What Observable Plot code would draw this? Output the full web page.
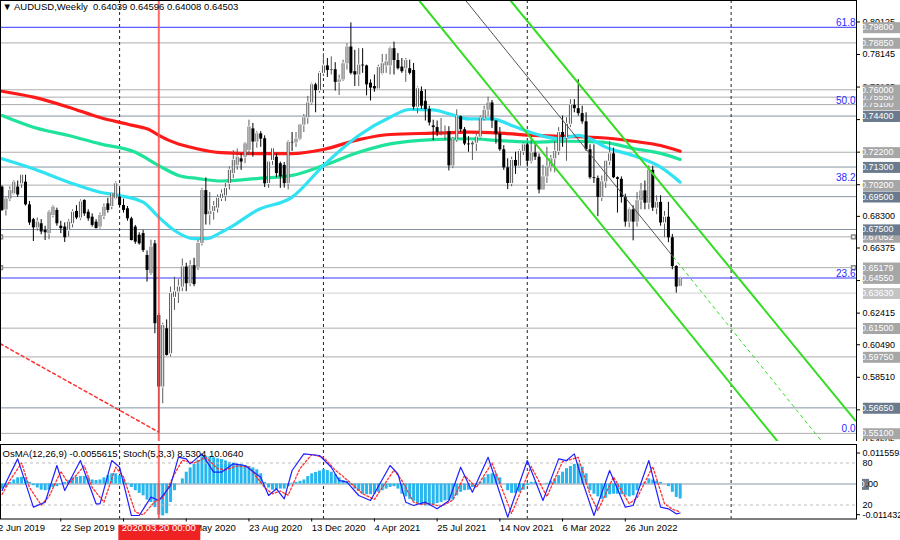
<!DOCTYPE html>
<html><head><meta charset="utf-8">
<script src="https://cdn.jsdelivr.net/npm/d3@7"></script>
<script src="https://cdn.jsdelivr.net/npm/@observablehq/plot@0.6"></script>
<style>
body{margin:0;background:#fff;}
#chart{position:relative;width:900px;height:540px;overflow:hidden;background:#fff;}
#chart svg{position:absolute;left:0;}
</style></head>
<body><div id="chart"></div>
<script>
// ---------------- DATA ----------------
const symbolTitle = "AUDUSD,Weekly";
const lastQuote = ["0.64039","0.64596","0.64008","0.64503"];
const indicatorTitle = "OsMA(12,26,9) -0.0055615  Stoch(5,3,3) 8.5304 10.0640";
const firstBar = "2019-06-09";   // weekly bars, one per week

const open = [
0.7008,0.6870,0.6935,0.6967,0.7008,0.7028,0.7038,0.6900,0.6810,0.6760,
0.6785,0.6745,0.6725,0.6835,0.6866,0.6770,0.6765,0.6745,0.6785,0.6860,
0.6820,0.6927,0.6855,0.6825,0.6795,0.6765,0.6830,0.6906,0.6890,0.6937,
0.6947,0.6896,0.6876,0.6815,0.6765,0.6715,0.6725,0.6592,0.6481,0.6663,
0.6227,0.5792,0.6146,0.5994,0.6337,0.6370,0.6400,0.6522,0.6420,0.6530,
0.6520,0.6665,0.6987,0.6840,0.6860,0.6880,0.6940,0.6955,0.7030,0.7090,
0.7140,0.7180,0.7190,0.7231,0.7362,0.7282,0.7332,0.7302,0.7030,0.7170,
0.7190,0.7150,0.7140,0.7029,0.7280,0.7277,0.7300,0.7385,0.7430,0.7520,
0.7630,0.7595,0.7700,0.7745,0.7717,0.7722,0.7645,0.7660,0.7758,0.7860,
0.7710,0.7690,0.7750,0.7745,0.7640,0.7620,0.7605,0.7698,0.7745,0.7745,
0.7850,0.7778,0.7738,0.7728,0.7728,0.7717,0.7494,0.7590,0.7530,0.7480,
0.7380,0.7370,0.7342,0.7345,0.7345,0.7137,0.7297,0.7436,0.7357,0.7270,
0.7265,0.7275,0.7312,0.7425,0.7475,0.7520,0.7410,0.7330,0.7235,0.7125,
0.7030,0.7170,0.7135,0.7225,0.7265,0.7165,0.7215,0.7190,0.6990,0.7070,
0.7130,0.7180,0.7225,0.7340,0.7310,0.7390,0.7505,0.7485,0.7455,0.7405,
0.7235,0.7065,0.7060,0.6945,0.7040,0.7165,0.7210,0.7065,0.7055,0.6945,
0.6795,0.6870,0.6795,0.6925,0.6985,0.6910,0.7110,0.6880,0.6915,0.6790,
0.6825,0.6700,0.6525,0.64039];
const high = [
0.7015,0.6946,0.7010,0.7048,0.7045,0.7085,0.7080,0.6920,0.6818,0.6820,
0.6810,0.6770,0.6865,0.6895,0.6880,0.6800,0.6790,0.6810,0.6870,0.6895,
0.6930,0.6930,0.6870,0.6845,0.6810,0.6850,0.6905,0.6940,0.6975,0.7040,
0.7000,0.6935,0.6890,0.6825,0.6775,0.6730,0.6745,0.6620,0.6685,0.6683,
0.6240,0.6180,0.6200,0.6400,0.6460,0.6445,0.6570,0.6545,0.6560,0.6575,
0.6685,0.7000,0.7064,0.6975,0.6920,0.6960,0.6990,0.7030,0.7130,0.7230,
0.7240,0.7210,0.7280,0.7415,0.7395,0.7345,0.7345,0.7320,0.7165,0.7243,
0.7210,0.7160,0.7158,0.7290,0.7340,0.7340,0.7390,0.7450,0.7560,0.7640,
0.7640,0.7710,0.7820,0.7790,0.7800,0.7765,0.7690,0.7780,0.7880,0.8007,
0.7840,0.7850,0.7850,0.7750,0.7660,0.7690,0.7750,0.7815,0.7815,0.7860,
0.7890,0.7820,0.7790,0.7790,0.7780,0.7760,0.7617,0.7617,0.7600,0.7500,
0.7415,0.7410,0.7425,0.7380,0.7375,0.7310,0.7478,0.7440,0.7370,0.7315,
0.7285,0.7330,0.7440,0.7500,0.7555,0.7535,0.7410,0.7370,0.7260,0.7180,
0.7190,0.7220,0.7235,0.7277,0.7275,0.7315,0.7277,0.7210,0.7140,0.7250,
0.7200,0.7285,0.7370,0.7440,0.7430,0.7540,0.7540,0.7661,0.7500,0.7460,
0.7265,0.7265,0.7075,0.7075,0.7170,0.7285,0.7245,0.7070,0.7070,0.6965,
0.6880,0.6895,0.6975,0.7030,0.7045,0.7137,0.7135,0.6955,0.6955,0.6860,
0.6915,0.6720,0.6530,0.64596];
const low = [
0.6860,0.6832,0.6920,0.6960,0.6945,0.7000,0.6893,0.6775,0.6677,0.6740,
0.6718,0.6683,0.6688,0.6820,0.6770,0.6725,0.6671,0.6705,0.6760,0.6810,
0.6805,0.6830,0.6800,0.6765,0.6755,0.6752,0.6810,0.6850,0.6870,0.6930,
0.6880,0.6850,0.6800,0.6680,0.6660,0.6655,0.6610,0.6430,0.6470,0.6116,
0.5510,0.5690,0.5980,0.5975,0.6258,0.6300,0.6372,0.6372,0.6402,0.6402,
0.6500,0.6650,0.6777,0.6776,0.6807,0.6850,0.6920,0.6920,0.6990,0.7060,
0.7110,0.7110,0.7150,0.7200,0.7190,0.7245,0.7250,0.7005,0.7000,0.7140,
0.7065,0.7000,0.7002,0.6991,0.7225,0.7250,0.7290,0.7340,0.7390,0.7505,
0.7460,0.7580,0.7680,0.7675,0.7690,0.7592,0.7565,0.7650,0.7720,0.7690,
0.7620,0.7620,0.7700,0.7563,0.7532,0.7585,0.7600,0.7690,0.7700,0.7690,
0.7690,0.7720,0.7700,0.7645,0.7690,0.7477,0.7454,0.7480,0.7410,0.7380,
0.7290,0.7315,0.7320,0.7290,0.7106,0.7120,0.7280,0.7342,0.7260,0.7220,
0.7170,0.7225,0.7300,0.7410,0.7440,0.7365,0.7270,0.7225,0.7110,0.6993,
0.7010,0.7085,0.7125,0.7200,0.7130,0.7150,0.7170,0.6967,0.6990,0.7030,
0.7100,0.7095,0.7200,0.7250,0.7165,0.7370,0.7460,0.7440,0.7390,0.7225,
0.7055,0.7030,0.6828,0.6920,0.7000,0.7140,0.7060,0.6850,0.6910,0.6765,
0.6760,0.6681,0.6765,0.6870,0.6870,0.6870,0.6860,0.6840,0.6770,0.6700,
0.6670,0.6505,0.6363,0.64008];
const close = [
0.6866,0.6935,0.6987,0.7038,0.6960,0.7080,0.6900,0.6790,0.6760,0.6795,
0.6735,0.6730,0.6855,0.6886,0.6785,0.6755,0.6700,0.6795,0.6855,0.6820,
0.6917,0.6845,0.6815,0.6775,0.6755,0.6835,0.6886,0.6866,0.6967,0.7028,
0.6896,0.6866,0.6815,0.6683,0.6673,0.6663,0.6622,0.6501,0.6643,0.6177,
0.5792,0.6166,0.5984,0.6360,0.6370,0.6400,0.6522,0.6420,0.6530,0.6415,
0.6665,0.6987,0.6840,0.6860,0.6890,0.6940,0.6965,0.7000,0.7110,0.7170,
0.7190,0.7160,0.7271,0.7373,0.7282,0.7332,0.7300,0.7028,0.7160,0.7241,
0.7090,0.7070,0.7029,0.7280,0.7277,0.7300,0.7385,0.7430,0.7520,0.7630,
0.7595,0.7700,0.7745,0.7717,0.7722,0.7645,0.7660,0.7758,0.7860,0.7700,
0.7690,0.7750,0.7745,0.7630,0.7610,0.7605,0.7735,0.7758,0.7770,0.7850,
0.7778,0.7728,0.7710,0.7778,0.7700,0.7494,0.7606,0.7500,0.7480,0.7398,
0.7370,0.7340,0.7345,0.7345,0.7137,0.7297,0.7436,0.7357,0.7270,0.7265,
0.7275,0.7312,0.7425,0.7475,0.7520,0.7410,0.7330,0.7235,0.7125,0.7030,
0.7170,0.7135,0.7225,0.7265,0.7165,0.7215,0.7190,0.6990,0.7070,0.7130,
0.7180,0.7225,0.7340,0.7310,0.7390,0.7505,0.7485,0.7455,0.7405,0.7235,
0.7065,0.7060,0.6945,0.7040,0.7165,0.7210,0.7065,0.7055,0.6945,0.6795,
0.6870,0.6795,0.6925,0.6985,0.6910,0.7110,0.6880,0.6915,0.6790,0.6825,
0.6700,0.6525,0.6400,0.64503];

// moving averages: [date, price]
const maRed = [["2019-06-09",0.7591],["2019-08-04",0.7555],["2019-10-06",0.7494],["2019-12-01",0.7431],["2020-01-26",0.7385],["2020-03-01",0.7352],["2020-03-15",0.7322],["2020-05-24",0.7240],["2020-07-05",0.7218],["2020-09-06",0.7212],["2020-11-08",0.7212],["2021-01-03",0.7237],["2021-03-07",0.7297],["2021-05-02",0.7328],["2021-07-18",0.7336],["2021-09-19",0.7342],["2021-11-14",0.7336],["2022-01-16",0.7322],["2022-03-13",0.7316],["2022-05-15",0.7308],["2022-07-10",0.7287],["2022-08-28",0.7261],["2022-10-02",0.7226]];
const maGreen = [["2019-06-09",0.7443],["2019-08-04",0.7372],["2019-10-06",0.7322],["2019-12-01",0.7271],["2020-02-02",0.7220],["2020-03-15",0.7139],["2020-04-19",0.7079],["2020-05-24",0.7060],["2020-07-05",0.7045],["2020-09-06",0.7060],["2020-11-08",0.7079],["2021-01-03",0.7139],["2021-03-07",0.7220],["2021-05-02",0.7271],["2021-07-18",0.7297],["2021-09-19",0.7302],["2021-11-14",0.7291],["2022-01-16",0.7281],["2022-03-13",0.7287],["2022-05-15",0.7281],["2022-07-10",0.7243],["2022-08-28",0.7213],["2022-10-02",0.7176]];
const maCyan = [["2019-06-09",0.7180],["2019-08-04",0.7119],["2019-10-06",0.7038],["2019-12-01",0.6977],["2020-01-05",0.6957],["2020-02-16",0.6916],["2020-03-15",0.6825],["2020-04-12",0.6744],["2020-05-17",0.6694],["2020-06-07",0.6694],["2020-07-05",0.6734],["2020-07-26",0.6774],["2020-09-06",0.6866],["2020-11-08",0.6947],["2021-01-03",0.7139],["2021-03-07",0.7322],["2021-05-02",0.7433],["2021-06-06",0.7480],["2021-07-18",0.7478],["2021-08-15",0.7454],["2021-09-19",0.7423],["2021-10-31",0.7423],["2021-12-05",0.7383],["2022-01-16",0.7332],["2022-02-27",0.7302],["2022-04-03",0.7322],["2022-04-24",0.7302],["2022-05-22",0.7251],["2022-07-10",0.7200],["2022-08-28",0.7129],["2022-10-02",0.7038]];

// drawn objects: [date, price]
const channelLower = [["2021-06-23",0.8143],["2023-03-25",0.54605]];
const channelUpper = [["2021-12-03",0.8143],["2023-08-11",0.5588]];
const channelMid = [["2021-09-14",0.8143],["2022-09-20",0.6582]];
const channelMidExt = [["2022-09-20",0.6582],["2023-06-12",0.54605]];
const redTrend = [["2019-06-06",0.6055],["2020-03-14",0.5519]];

// horizontal levels (ascending)
const levelPrices = [0.5510,0.5665,0.5975,0.6150,0.6363,0.6455,0.65179,0.67052,0.6750,0.6950,0.7020,0.7130,0.7220,0.7440,0.7510,0.7555,0.7600,0.7885,0.7980];
const levelKinds  = ["light","dark","light","light","pale","blue","light","light","dark","dark","light","dark","light","dark","light","light","light","light","blue"];
const handleLevels = [0.67052,0.65179];
const fibLabels = ["61.8","50.0","38.2","23.6","0.0"];
const fibPrices = [0.7980,0.7509,0.7038,0.6455,0.5513];
const priceTicks = [0.80125,0.78145,0.76165,0.74185,0.72205,0.70225,0.68300,0.66375,0.64395,0.62415,0.60490,0.58510,0.56530,0.54605];

const yearLines = ["2020-01-05","2021-01-03","2022-01-02","2023-01-01"];
const markDate = "2020-03-20";
const markLabel = "2020.03.20 00:00";
const timeTicks = ["2019-06-02","2019-09-22","2020-01-12","2020-05-03","2020-08-23","2020-12-13","2021-04-04","2021-07-25","2021-11-14","2022-03-06","2022-06-26"];

// OsMA histogram, one value per bar
const osma = [
-0.0019,-0.0013,0.0006,0.0015,0.0023,0.0025,0.0023,0.0006,-0.0006,-0.0015,
-0.0023,-0.0025,-0.0023,-0.0013,-0.0010,-0.0003,0.0006,0.0013,0.0023,0.0025,
0.0028,0.0028,0.0023,0.0015,0.0013,0.0015,0.0023,0.0031,0.0038,0.0038,
0.0031,0.0019,0.0003,-0.0013,-0.0025,-0.0035,-0.0044,-0.0060,-0.0069,-0.0088,
-0.0116,-0.0119,-0.0111,-0.0069,-0.0025,0.0000,0.0019,0.0044,0.0060,0.0073,
0.0088,0.0101,0.0103,0.0101,0.0098,0.0094,0.0091,0.0086,0.0081,0.0078,
0.0075,0.0073,0.0069,0.0065,0.0060,0.0053,0.0038,0.0006,-0.0015,-0.0023,
-0.0023,-0.0019,-0.0019,-0.0010,0.0003,0.0006,0.0010,0.0015,0.0028,0.0038,
0.0043,0.0048,0.0053,0.0050,0.0044,0.0035,0.0023,0.0013,0.0010,-0.0003,
-0.0019,-0.0028,-0.0038,-0.0040,-0.0040,-0.0038,-0.0031,-0.0025,-0.0019,-0.0013,
-0.0010,-0.0019,-0.0038,-0.0048,-0.0057,-0.0065,-0.0073,-0.0078,-0.0082,-0.0082,
-0.0078,-0.0073,-0.0069,-0.0063,-0.0062,-0.0060,-0.0044,-0.0031,-0.0025,-0.0023,
-0.0013,-0.0006,0.0006,0.0023,0.0035,0.0038,0.0038,0.0023,0.0000,-0.0025,
-0.0035,-0.0035,-0.0031,-0.0023,-0.0006,0.0006,0.0006,0.0000,0.0000,0.0003,
0.0010,0.0019,0.0031,0.0044,0.0057,0.0065,0.0073,0.0075,0.0063,0.0038,
-0.0025,-0.0038,-0.0048,-0.0057,-0.0053,-0.0040,-0.0038,-0.0038,-0.0040,-0.0044,
-0.0048,-0.0044,-0.0025,-0.0006,0.0006,0.0019,0.0015,0.0010,0.0006,0.0000,
-0.0010,-0.0031,-0.0050,-0.0056];
const osmaTicks = [0.0115593,-0.011432];

// Stochastic turning points: [bar number, value]
const stochMain = [[0,40.7],[4,85.9],[8,16.9],[11,24],[14,76.4],[16,40.7],[20,83.5],[24,21.7],[25,21.7],[28,83.5],[30,74],[33,5],[35,5],[38,31.2],[40,26.4],[43,47.8],[45,88.3],[47,85.9],[48,78.8],[51,93],[54,66.9],[56,66.9],[59,78.8],[62,76.4],[66,59.7],[68,33.6],[70,43.1],[72,28.8],[74,69.3],[77,93],[81,90.7],[84,74],[86,55],[88,52.6],[91,33.6],[94,26.4],[99,76.4],[101,64.5],[103,24],[105,19.3],[108,24],[111,14.5],[114,26],[117,74],[120,38.3],[124,88.3],[129,2.6],[134,83.5],[138,26.4],[142,85.9],[144,83.5],[146,93],[148,55],[151,5],[155,69.3],[159,16.9],[161,19.3],[165,83.5],[168,16.9],[170,14.5],[172,7.4],[173,8.53]];
const stochSignal = [[0,35],[2,55],[5,80],[7,45],[10,20],[12,32],[15,68],[17,50],[21,76],[23,45],[26,24],[29,74],[31,60],[34,10],[36,6],[39,25],[41,30],[44,64],[46,84],[49,80],[52,88],[55,72],[57,70],[60,76],[63,74],[67,45],[69,36],[71,40],[73,34],[76,72],[79,92],[82,88],[85,70],[88,56],[92,36],[95,28],[100,70],[102,55],[105,24],[107,21],[109,22],[112,18],[115,27],[118,62],[121,45],[125,80],[130,8],[135,75],[139,32],[143,82],[147,88],[150,35],[152,12],[156,60],[160,22],[162,30],[166,75],[169,22],[171,14],[173,10.06]];
const stochLevels = [80,20];

// ---------------- HELPERS ----------------
const t0 = Date.parse(firstBar);
const WEEK = 7 * 864e5;
const barDate = i => new Date(t0 + i * WEEK);
const D = s => new Date(s);
const markBar = barDate(Math.floor((Date.parse(markDate) - t0) / WEEK));
const bars = close.map((c, i) => ({date: barDate(i), o: open[i], h: high[i], l: low[i], c}));
const levels = levelPrices.map((p, i) => ({p, kind: levelKinds[i]}));
const fibs = fibPrices.map((p, i) => ({p, label: fibLabels[i]}));
const lineColor = {light: "#adadad", dark: "#8694a4", blue: "#3535ff", pale: "#d0d0d0"};
const boxColor = {light: "#a6a6a6", dark: "#6b7b8d", blue: "#a6a6a6", pale: "#c4c4c4"};
const FONT = "'Liberation Sans', Arial, sans-serif";
const FS = 9;
const xScale = {type: "utc", domain: [barDate(-0.3827), barDate(217.98)], axis: null};
const red = "#ff5050";

// ---------------- MAIN PRICE PANEL ----------------
const main = Plot.plot({
  width: 900, height: 441,
  marginLeft: 0, marginRight: 44, marginTop: 0, marginBottom: 0,
  style: {background: "white", fontFamily: FONT, fontSize: "9px", position: "absolute", top: "0px", left: "0px"},
  x: xScale,
  y: {domain: [0.54605, 0.81430], axis: null},
  marks: [
    Plot.ruleY(levels, {y: "p", stroke: d => lineColor[d.kind], strokeWidth: 1}),
    Plot.ruleX(yearLines, {x: D, stroke: "#222", strokeDasharray: "3,3"}),
    Plot.line(redTrend, {x: d => D(d[0]), y: d => d[1], stroke: "#ff3030", strokeDasharray: "3,3"}),
    Plot.line(maRed, {x: d => D(d[0]), y: d => d[1], stroke: "#ff1a1a", strokeWidth: 3.2, curve: "monotone-x"}),
    Plot.line(maGreen, {x: d => D(d[0]), y: d => d[1], stroke: "#1fe39b", strokeWidth: 3.2, curve: "monotone-x"}),
    Plot.line(maCyan, {x: d => D(d[0]), y: d => d[1], stroke: "#30e2f2", strokeWidth: 3.2, curve: "monotone-x"}),
    // candles
    Plot.ruleX(bars, {x: "date", y1: "l", y2: "h", stroke: d => d.c >= d.o ? "#5a5a5a" : "#000"}),
    Plot.ruleX(bars.filter(d => d.c < d.o), {x: "date", y1: "o", y2: "c", stroke: "#000", strokeWidth: 3}),
    Plot.ruleX(bars.filter(d => d.c >= d.o), {x: "date", y1: "o", y2: "c", stroke: "#5a5a5a", strokeWidth: 3}),
    Plot.ruleX(bars.filter(d => d.c - d.o > 0.0014), {x: "date", y1: "o", y2: "c", stroke: "#fff", strokeWidth: 1, insetTop: 1, insetBottom: 1}),
    // channel
    Plot.line(channelLower, {x: d => D(d[0]), y: d => d[1], stroke: "#33dd22", strokeWidth: 2}),
    Plot.line(channelUpper, {x: d => D(d[0]), y: d => d[1], stroke: "#33dd22", strokeWidth: 2}),
    Plot.line(channelMid, {x: d => D(d[0]), y: d => d[1], stroke: "#555", strokeWidth: 1}),
    Plot.line(channelMidExt, {x: d => D(d[0]), y: d => d[1], stroke: "#33dd22", strokeWidth: 1, strokeDasharray: "3,4"}),
    Plot.ruleX([markBar], {x: d => d, stroke: red, strokeWidth: 2, strokeOpacity: 0.85}),
    Plot.dot(handleLevels, {y: d => d, frameAnchor: "left", symbol: "square", r: 2.2, fill: "white", stroke: "#888"}),
    Plot.dot(handleLevels, {y: d => d, frameAnchor: "right", dx: -3, symbol: "square", r: 2.2, fill: "white", stroke: "#888"}),
    Plot.text(fibs, {y: "p", text: "label", frameAnchor: "right", textAnchor: "end", lineAnchor: "bottom", dx: -1, dy: -1, fill: "#2b2bff", fontSize: 10}),
    Plot.text([`\u25BC ${symbolTitle}  ${lastQuote.join(" ")}`], {frameAnchor: "top-left", dx: 2, dy: 3, text: d => d, fill: "#000", fontSize: 9.5}),
    Plot.axisY(priceTicks, {anchor: "right", tickSize: 3, tickPadding: 3, tickFormat: d => d.toFixed(5), label: null, fontSize: FS, stroke: "#000", color: "#000"}),
    Plot.text(levels, {y: "p", text: d => d.p.toFixed(5), frameAnchor: "right", textAnchor: "start", dx: 4.5, fill: "#fffffe", fontSize: FS}),
    Plot.frame({stroke: "#000"})
  ]
});

// ---------------- OsMA PANEL ----------------
const osmaData = osma.map((v, i) => ({date: barDate(i), v}));
const osmaPlot = Plot.plot({
  width: 900, height: 96,
  marginLeft: 0, marginRight: 44, marginTop: 0, marginBottom: 21.5,
  style: {background: "white", fontFamily: FONT, fontSize: "9px", position: "absolute", top: "444px", left: "0px"},
  x: xScale,
  y: {domain: [-0.01305, 0.014728], axis: null},
  marks: [
    Plot.ruleY([0], {stroke: "#8896a6"}),
    Plot.ruleX(yearLines, {x: D, stroke: "#222", strokeDasharray: "3,3"}),
    Plot.ruleX(osmaData, {x: "date", y1: 0, y2: "v", stroke: "#27b7ee", strokeWidth: 3}),
    Plot.axisY(osmaTicks, {anchor: "right", tickSize: 3, tickPadding: 3, tickFormat: d => String(d), label: null, fontSize: FS}),
    Plot.text([0], {y: d => d, text: () => "0", frameAnchor: "right", textAnchor: "start", dx: 3, fill: "#fffffc", fontSize: FS}),
    Plot.text([0], {y: d => d, text: () => ".00", frameAnchor: "right", textAnchor: "start", dx: 9, fill: "#000", fontSize: FS})
  ]
});

// ---------------- STOCHASTIC PANEL + TIME AXIS ----------------
const stochPlot = Plot.plot({
  width: 900, height: 96,
  marginLeft: 0, marginRight: 44, marginTop: 0, marginBottom: 21.5,
  style: {background: "transparent", fontFamily: FONT, fontSize: "9px", position: "absolute", top: "444px", left: "0px"},
  x: xScale,
  y: {domain: [0, 106.43], axis: null},
  marks: [
    Plot.ruleY(stochLevels, {stroke: "#bdbdbd", strokeDasharray: "3,3"}),
    Plot.line(stochSignal, {x: d => barDate(d[0]), y: d => d[1], stroke: "#ff3030", strokeWidth: 1.3, strokeDasharray: "2,2"}),
    Plot.line(stochMain, {x: d => barDate(d[0]), y: d => d[1], stroke: "#2020ff", strokeWidth: 1.2}),
    Plot.ruleX([markBar], {x: d => d, stroke: red, strokeWidth: 2, strokeOpacity: 0.85}),
    Plot.axisY(stochLevels, {anchor: "right", tickSize: 0, tickPadding: 6, tickFormat: d => String(d), label: null, fontSize: FS}),
    Plot.text([indicatorTitle], {frameAnchor: "top-left", dx: 2, dy: 6, text: d => d, fill: "#000", fontSize: 9.5}),
    Plot.axisX(timeTicks.map(D), {anchor: "bottom", tickSize: 3, tickPadding: 2, textAnchor: "start", tickFormat: d3.utcFormat("%-d %b %Y"), label: null, fontSize: 9.5}),
    Plot.text([markBar], {x: d => d, text: () => markLabel, frameAnchor: "bottom", lineAnchor: "top", dy: 5, textAnchor: "middle", fill: "#fffffd", fontSize: 9.5}),
    Plot.frame({stroke: "#000"})
  ]
});

const chart = document.getElementById("chart");
chart.append(main, osmaPlot, stochPlot);

// label boxes behind price tags
function boxes(svg, marker, fillOf, o) {
  const sr = svg.getBoundingClientRect();
  svg.querySelectorAll(`g[fill="${marker}"] text`).forEach(t => {
    const r = t.getBoundingClientRect();
    const cy = r.top - sr.top + r.height / 2;
    const rect = document.createElementNS("http://www.w3.org/2000/svg", "rect");
    const x = o.x != null ? o.x : r.left - sr.left - o.padX;
    const w = o.w != null ? o.w : r.width + 2 * o.padX;
    rect.setAttribute("x", x);
    rect.setAttribute("y", cy - o.h / 2);
    rect.setAttribute("width", w);
    rect.setAttribute("height", o.h);
    rect.setAttribute("fill", fillOf(t.textContent));
    t.parentNode.insertBefore(rect, t);
  });
}
const kindByLabel = Object.fromEntries(levels.map(d => [d.p.toFixed(5), d.kind]));
boxes(main, "#fffffe", s => boxColor[kindByLabel[s]], {x: 858, w: 50, h: 11});
boxes(osmaPlot, "#fffffc", () => "#6b7b8d", {padX: 1, h: 11});
boxes(stochPlot, "#fffffd", () => "#ee2222", {padX: 4, h: 16});
</script>
</body></html>
